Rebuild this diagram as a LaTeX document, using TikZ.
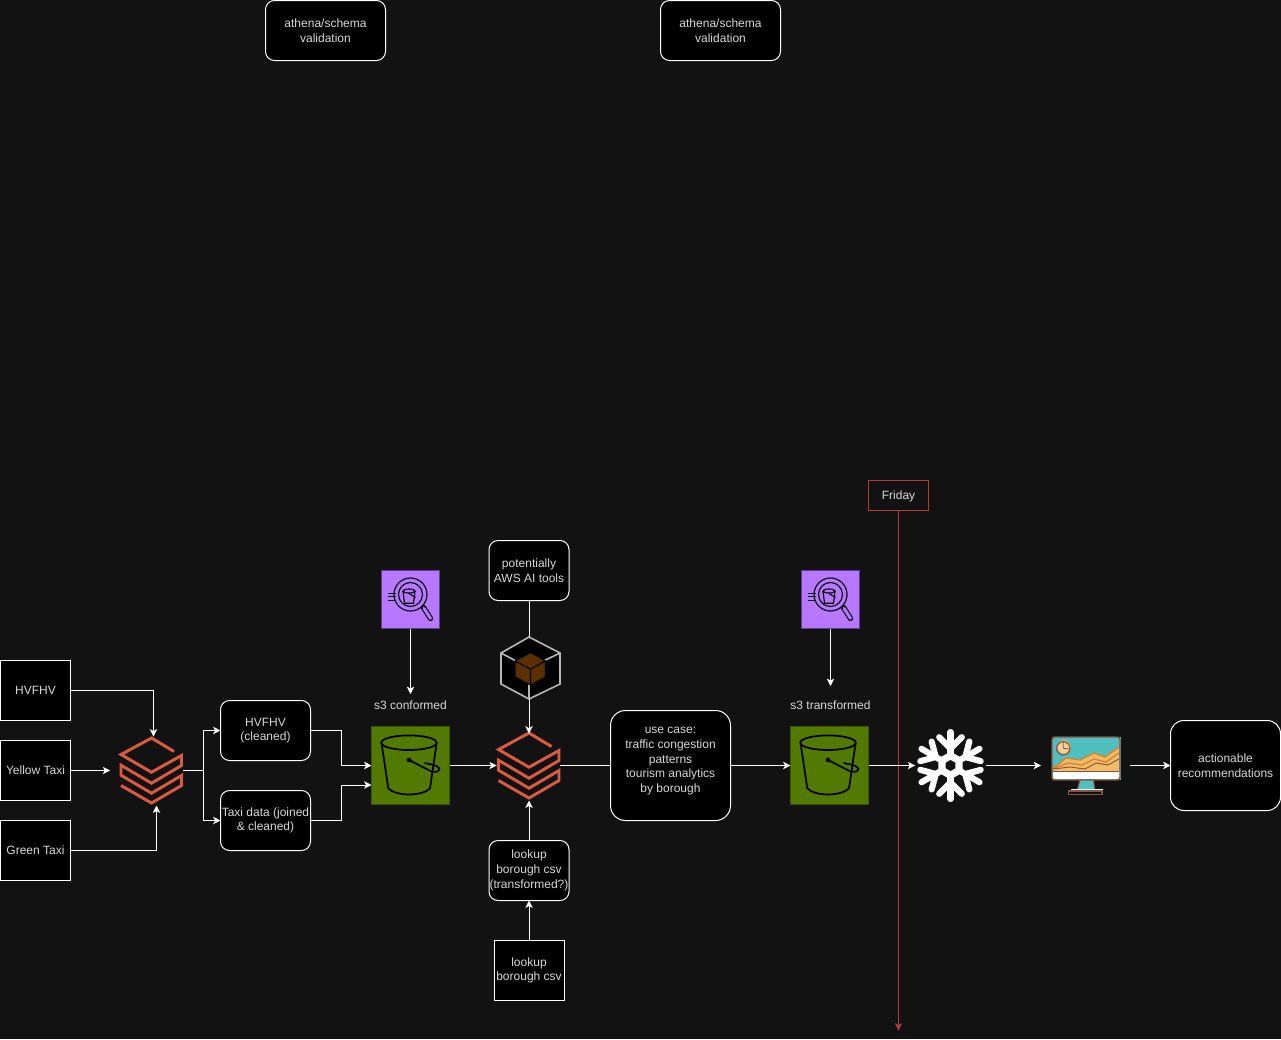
\documentclass[tikz,border=0pt]{standalone}
\usepackage{fontspec}
\setmainfont{Liberation Sans}
\usetikzlibrary{arrows.meta, calc}

\definecolor{canvas}{HTML}{121212}
\definecolor{labelgrey}{HTML}{D8D8D8}
\definecolor{bricksred}{HTML}{DC5A3E}
\definecolor{bucketgreen}{HTML}{527A00}
\definecolor{bucketedge}{HTML}{3A5800}
\definecolor{lensviolet}{HTML}{B877FF}
\definecolor{lensedge}{HTML}{5C3D8C}
\definecolor{fridayred}{HTML}{B23A3A}
\definecolor{cubegrey}{HTML}{B8B8B8}
\definecolor{cubebrown}{HTML}{5A3000}
\definecolor{screenteal}{HTML}{4FBFC0}
\definecolor{screenedge}{HTML}{8A5240}
\definecolor{hillsand}{HTML}{F0BC68}
\definecolor{hillorange}{HTML}{D9822B}

% Icons, drawn over their named nodes
\newcommand{\bricksicon}[1]{
  \draw [bricksred, line width=2.2pt, miter limit=4, shift={(#1)}]
    (22.5,-19) -- (0,-32.5) -- (-30.5,-16) -- (0,1.7) -- (30,-15) -- (30,-5) -- (0,12.7) -- (-30.5,-5.3)
    -- (-30.5,4.7) -- (0,22.7) -- (30,5) -- (30,15) -- (0,32.5) -- (-30.5,15);
}
\newcommand{\bucketicon}[1]{
  \begin{scope}[shift={(#1)}, black, line width=1.3pt]
    \draw (-1.5,-22.8) ellipse (27.7 and 7.3);
    \draw (-29,-22.8) -- (-22.2,22.8) .. controls (-15,31) and (12,31) .. (19.5,22.8) -- (26.2,-22.8);
    \fill (-1.5,-5.5) circle (2.3);
    \draw (-1.5,-5.5) -- (21,6) .. controls (33,8) and (30,0) .. (21,-1) -- (14,-2.5);
  \end{scope}
}
\newcommand{\lensicon}[1]{
  \begin{scope}[shift={(#1)}, black, line width=0.85pt]
    \draw (0,-5) circle (16.5);
    \draw (0,-5) circle (12);
    \draw (-23,-6) -- (-15,-6);
    \draw (-23,-3) -- (-15,-3);
    \draw (-23,1) -- (-15,1);
    \draw (-1.5,-8.5) ellipse (6 and 2);
    \draw (-7.5,-8.5) -- (-6,3.8) -- (3,3.8) -- (4.5,-8.5);
    \draw (-1.5,-6) -- (5,-2);
    \draw [line width=4pt, line cap=round] (13,8) -- (20,19);
    \draw [lensviolet, line width=2.3pt, line cap=round] (13.5,8.8) -- (20,19);
  \end{scope}
}
\newcommand{\cubeicon}[1]{
  \begin{scope}[shift={(#1)}]
    \draw [cubegrey, fill=black, line width=1.2pt] (0,-31) -- (31,-15) -- (31,16) -- (0,31) -- (-28,16) -- (-28,-15) -- cycle;
    \draw [cubegrey, line width=1.2pt] (-28,-15) -- (0,0) -- (31,-15) (0,0) -- (0,31);
    \draw [black, fill=cubebrown, line width=0.8pt] (1.5,-15.5) -- (16.5,-7) -- (16.5,9) -- (1.5,17) -- (-14,9) -- (-14,-7) -- cycle;
    \draw [black, line width=0.8pt] (-14,-7) -- (1.5,1) -- (16.5,-7) (1.5,1) -- (1.5,17);
  \end{scope}
}
\newcommand{\snowicon}[1]{
  \begin{scope}[shift={(#1)}, white, line width=4.6pt, line cap=round]
    \foreach \a in {30,90,150,210,270,330} {
      \draw (0,0) -- (\a:33.5);
      \draw (\a:17) -- ++(\a+45:16);
      \draw (\a:17) -- ++(\a-45:16);
    }
    \fill (30:14) -- (90:14) -- (150:14) -- (210:14) -- (270:14) -- (330:14) -- cycle;
    \fill [canvas] (30:5.5) -- (90:5.5) -- (150:5.5) -- (210:5.5) -- (270:5.5) -- (330:5.5) -- cycle;
  \end{scope}
}
\newcommand{\screenicon}{
  \fill [screenteal] (1052,737) rectangle (1120.5,780);
  \fill [hillsand] (1053,769) -- (1066,758) -- (1080,760) -- (1094,753) -- (1105,757) -- (1119,747) -- (1119,771) -- (1053,771) -- cycle;
  \fill [white] (1053,771) rectangle (1119.5,779);
  \draw [screenedge, line width=0.9pt] (1053,771.8) -- (1119,771.8);
  \draw [hillorange, line width=1pt] (1053,769) -- (1066,758) -- (1080,760) -- (1094,753) -- (1105,757) -- (1119,747);
  \draw [hillorange, line width=1pt] (1053,769) -- (1068,763) -- (1082,765) -- (1094,759) -- (1106,762) -- (1119,753);
  \draw [screenedge, line width=0.7pt] (1053,769) -- (1070,767) -- (1085,769) -- (1096,763) -- (1108,765) -- (1119,759);
  \draw [screenedge, rounded corners=2pt, line width=1.1pt] (1052,737) rectangle (1120,780);
  \draw [hillsand, fill=hillsand!70!white] (1064,747) circle (6.5);
  \draw [screenedge, line width=0.9pt] (1063.3,748.3) circle (6.7);
  \draw [screenedge, line width=0.6pt] (1063.3,748.3) -- (1063.3,742) (1063.3,748.3) -- (1069,749);
  \draw [screenedge, fill=screenteal, line width=0.8pt] (1080,780) -- (1093.5,780) -- (1095,791) -- (1077,791) -- cycle;
  \fill [white!90!screenteal] (1071,789) rectangle (1103,792);
  \draw [screenedge, line width=1.1pt] (1068.5,791) rectangle (1102,794.5);
}

\begin{document}
\begin{tikzpicture}[x=0.75pt, y=-0.75pt, node distance=60pt, every node/.style={font=\fontsize{9}{11}\selectfont, text=labelgrey, align=center, inner sep=0pt, outer sep=0pt}]
% Styles
\tikzstyle{lowered} = [execute at begin node={\rule{0pt}{8.6pt}}]
\tikzstyle{plainbox} = [rectangle, minimum width=52.5pt, minimum height=45pt, draw=white, line width=0.75pt, fill=black]
\tikzstyle{softbox} = [rectangle, rounded corners=6.75pt, minimum width=67.5pt, minimum height=45pt, draw=white, line width=0.75pt, fill=black, lowered]
\tikzstyle{checkbox} = [softbox, minimum width=90pt]
\tikzstyle{widebox} = [softbox, minimum width=90pt, minimum height=82.5pt, rounded corners=11.25pt]
\tikzstyle{endbox} = [softbox, minimum width=82.5pt, minimum height=67.5pt, rounded corners=10pt]
\tikzstyle{smallbox} = [softbox, minimum width=60pt]
\tikzstyle{bucketbox} = [rectangle, minimum size=58.5pt, draw=bucketedge, line width=0.75pt, fill=bucketgreen]
\tikzstyle{lensbox} = [rectangle, minimum size=43.5pt, draw=lensedge, line width=0.75pt, fill=lensviolet]
\tikzstyle{bricksbox} = [rectangle, minimum width=47pt, minimum height=49.5pt]
\tikzstyle{cubebox} = [rectangle, minimum width=44.25pt, minimum height=46.5pt]
\tikzstyle{caption} = [rectangle, minimum height=16.5pt]
\tikzstyle{arrow} = [white, line width=0.75pt, -{Stealth[length=5.5pt, width=5.5pt, inset=1.4pt]}]
\tikzstyle{link} = [white, line width=0.75pt]

\fill [canvas] (0,0) rectangle (1281,1039);
\useasboundingbox (0,0) rectangle (1281,1039);

% Nodes
\node (athena_one) [checkbox] at (325.5,30.5) {athena/schema \\ validation};
\node (athena_two) [checkbox] at (720.5,30.5) {athena/schema \\ validation};

\node (hvfhv) [plainbox] at (35.5,690.5) {HVFHV};
\node (yellow) [plainbox, below of=hvfhv] {Yellow Taxi};
\node (green) [plainbox, below of=yellow] {Green Taxi};
\node (bricks_one) [bricksbox, right of=yellow, xshift=27pt] {};
\node (cleaned) [softbox] at (265.5,730.5) {HVFHV \\ (cleaned)};
\node (joined) [softbox, below of=cleaned, yshift=-7.5pt] {Taxi data (joined \\ \& cleaned)};

\node (conformed) [bucketbox] at (410.5,765.5) {};
\node (conformed_label) [caption] at (410.5,705) {s3 conformed};
\node (lens_one) [lensbox] at (410.5,599.5) {};

\node (ai_tools) [softbox, minimum width=60pt] at (529,570.5) {potentially \\ AWS AI tools};
\node (cube) [cubebox] at (529,668) {};
\node (bricks_two) [bricksbox] at (529,765.5) {};
\node (lookup_one) [smallbox] at (529,870.5) {lookup \\ borough csv \\ (transformed?)};
\node (lookup_two) [plainbox, lowered, below of=lookup_one, yshift=-15pt] {lookup \\ borough csv};

\node (use_case) [widebox] at (670.5,765.5) {use case: \\ traffic congestion \\ patterns \\ tourism analytics \\ by borough \\[-2.6pt] ~};
\node (transformed) [bucketbox] at (829.5,765.5) {};
\node (transformed_label) [caption] at (830.5,705) {s3 transformed};
\node (lens_two) [lensbox] at (830.5,599.5) {};

\node (friday) [rectangle, lowered, minimum width=45pt, minimum height=22.5pt, draw=fridayred, line width=0.75pt, fill=canvas] at (898.5,495.5) {Friday};
\node (snow) [rectangle, minimum width=53pt, minimum height=54.75pt] at (950.5,765.5) {};
\node (screen) [rectangle, minimum width=52.5pt, minimum height=44.5pt] at (1086,765.5) {};
\node (actions) [endbox] at (1225.5,765.5) {actionable \\ recommendations};

% Icons
\bricksicon{bricks_one}
\bricksicon{bricks_two}
\bucketicon{conformed}
\bucketicon{transformed}
\lensicon{lens_one}
\lensicon{lens_two}
\cubeicon{cube}
\snowicon{snow}
\screenicon

% Arrows
\coordinate (friday_end) at (898.5,1030.5);
\draw [arrow, fridayred] (friday) -- (friday_end);

\draw [arrow] (hvfhv) -| ([xshift=1.5pt, yshift=0.75pt]bricks_one.north);
\draw [arrow] (yellow) -- ([xshift=-7.5pt]bricks_one.west);
\draw [arrow] (green) -| ([xshift=3.75pt, yshift=-1.5pt]bricks_one.south);

\coordinate (split) at (203,770.5);
\draw [link] (bricks_one.east) -- (split);
\draw [arrow] (split) |- (cleaned);
\draw [arrow] (split) |- (joined);

\coordinate (merge_one) at (341,765.5);
\coordinate (merge_two) at (341,785);
\draw [arrow] (cleaned.east) -| (merge_one) -- (conformed.west);
\draw [arrow] (joined.east) -| (merge_two) -- (merge_two -| conformed.west);

\draw [arrow] (lens_one) -- (conformed_label);
\draw [arrow] (lens_two) -- ([yshift=6pt]transformed_label.north);

\draw [link] (ai_tools) -- (cube);
\draw [arrow] (cube.south) -- ([yshift=-0.75pt]bricks_two.north);
\draw [arrow] (conformed) -- ([xshift=-0.75pt]bricks_two.west);
\draw [arrow] (lookup_two) -- (lookup_one);
\draw [arrow] (lookup_one) -- ([yshift=-1.5pt]bricks_two.south);

\draw [link] (bricks_two.east) -- (use_case);
\draw [arrow] (use_case) -- (transformed);
\draw [arrow] (transformed) -- (snow);
\draw [arrow] (snow) -- ([xshift=-7.5pt]screen.west);
\draw [arrow] ([xshift=6.75pt]screen.east) -- (actions);
\end{tikzpicture}
\end{document}
